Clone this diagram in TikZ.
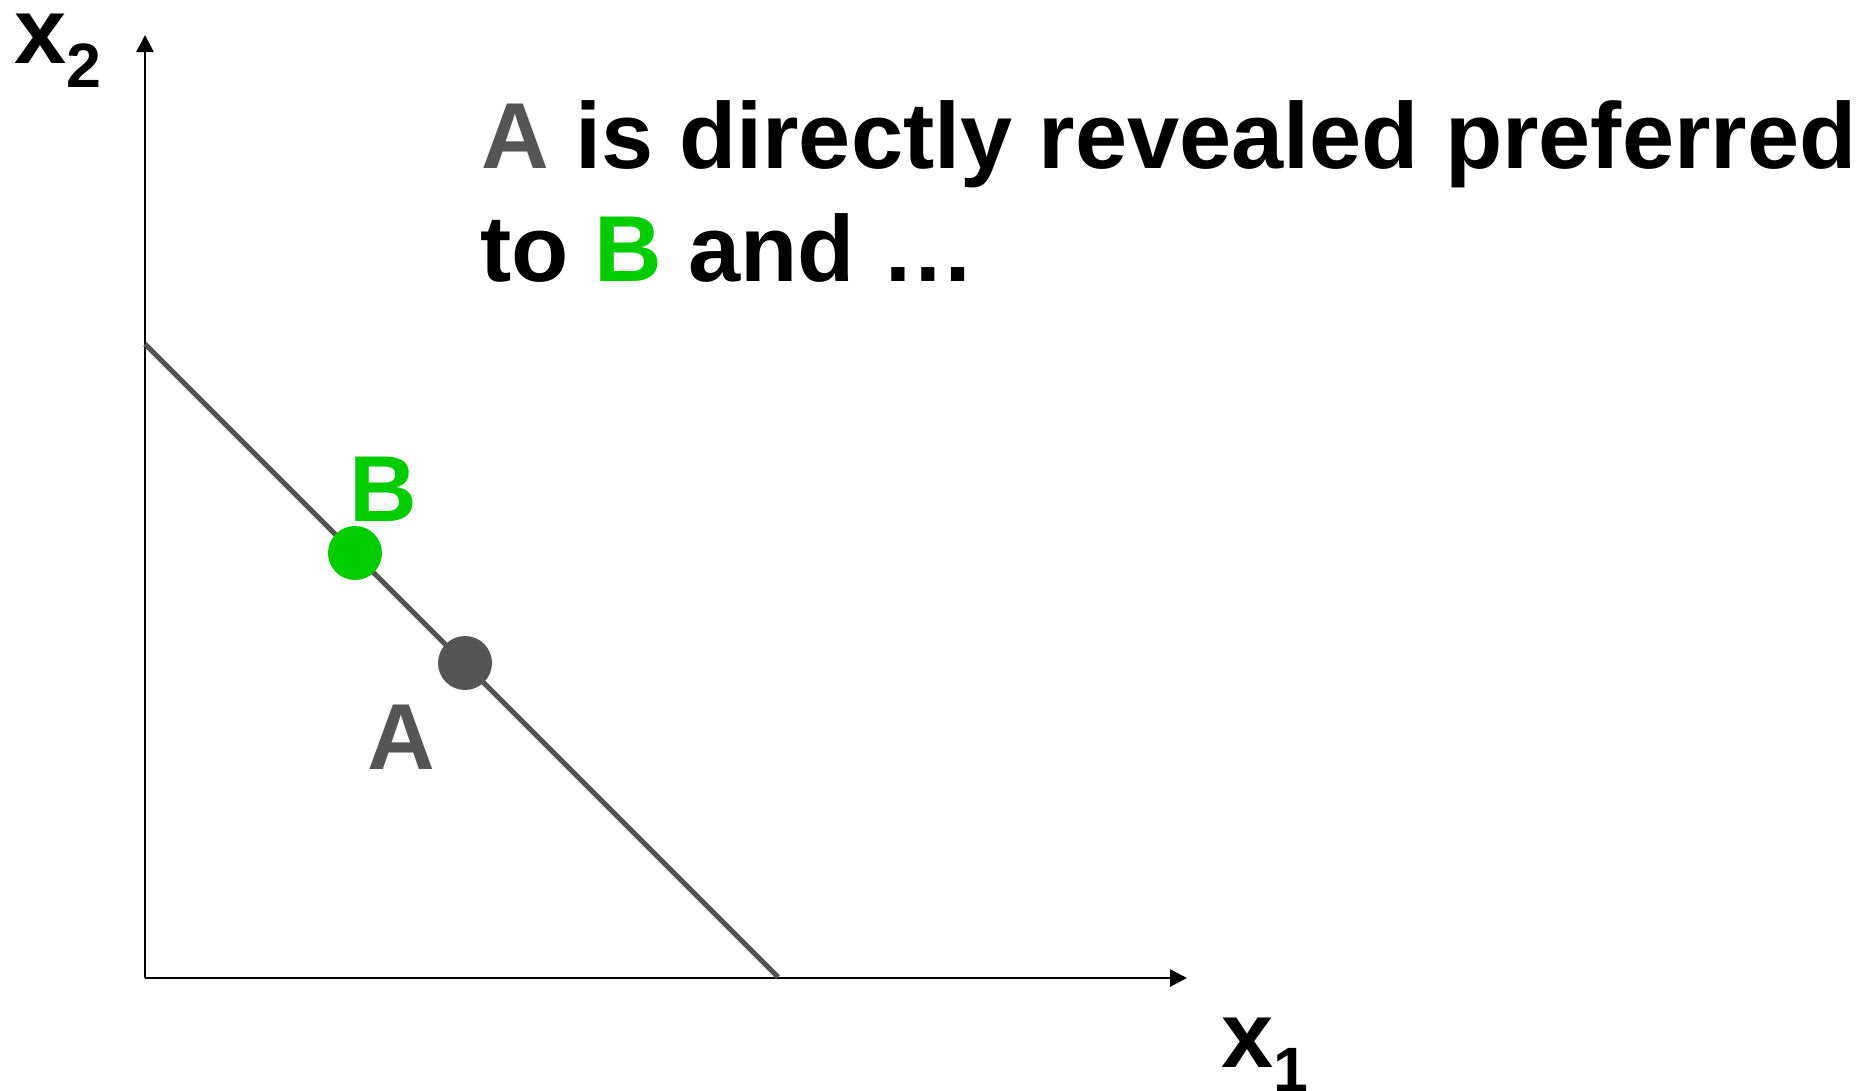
\documentclass[tikz,border=0pt]{standalone}
\usepackage{fontspec}
\setmainfont{Liberation Sans}
\usetikzlibrary{arrows.meta}
\definecolor{dgray}{HTML}{555555}
\definecolor{bgreen}{HTML}{00CC00}
\begin{document}
\begin{tikzpicture}[x=0.75pt,y=-0.75pt,
  axis/.style={line width=2pt,black,-{Triangle[length=12.75pt,width=12.75pt]}},
  budget/.style={line width=3.75pt,dgray},
  dot/.style={circle,inner sep=0pt,minimum size=40.5pt},
  big/.style={inner sep=0pt,anchor=base west,font=\fontsize{70.3}{85}\selectfont\bfseries}]
\useasboundingbox (0,0) rectangle (1858,1090);
\coordinate (O) at (145,978);
\coordinate (ytop) at (145,35);
\coordinate (xend) at (1187,978);
\coordinate (btop) at (145,344);
\coordinate (bbot) at (778,977);
\draw[axis] (O) -- (ytop);
\draw[axis] (O) -- (xend);
\draw[budget] (btop) -- (bbot);
\node[dot,fill=bgreen] (B) at (355,553) {};
\node[dot,fill=dgray] (A) at (465,663) {};
\node[big,text=bgreen] (Blab) at (349,521) {B};
\node[big,text=dgray] (Alab) at (367,769) {A};
\node[big] (x2lab) at (14,63) {x\raisebox{-18pt}{\fontsize{47}{47}\selectfont\bfseries 2}};
\node[big] (x1lab) at (1221,1067) {x\raisebox{-18pt}{\fontsize{47}{47}\selectfont\bfseries 1}};
\node[big] (title1) at (481,168) {\textcolor{dgray}{A} is directly revealed preferred};
\node[big] (title2) at (480,281) {to \textcolor{bgreen}{B} and \ldots};
\end{tikzpicture}
\end{document}
